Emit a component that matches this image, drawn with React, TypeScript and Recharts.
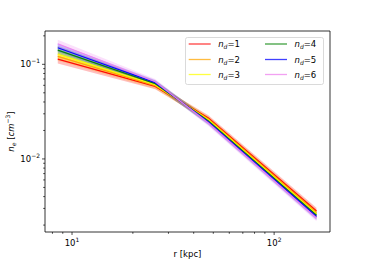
import React from 'react';
import { ComposedChart, Line, Area, XAxis, YAxis, ReferenceArea } from 'recharts';

const radii = [8.5, 25.8, 47.3, 162];
const nd1 = [0.1137, 0.0585, 0.0270, 0.00282];
const nd2 = [0.1215, 0.0595, 0.0264, 0.00272];
const nd3 = [0.1275, 0.0610, 0.0258, 0.00262];
const nd4 = [0.1416, 0.0625, 0.0252, 0.00254];
const nd5 = [0.1497, 0.0640, 0.0246, 0.00246];
const nd6 = [0.1650, 0.0655, 0.0240, 0.00238];
const bandFrac = [0.1, 0.07, 0.07, 0.08];
const seriesNames = ['1', '2', '3', '4', '5', '6'];
const seriesValues = [nd1, nd2, nd3, nd4, nd5, nd6];
const colors = ['red', 'orange', 'yellow', 'green', 'blue', 'violet'];

const xMajor = [10, 100];
const xMinor = [8, 9, 20, 30, 40, 50, 60, 70, 80, 90];
const yMajor = [0.01, 0.1];
const yMinor = [0.002, 0.003, 0.004, 0.005, 0.006, 0.007, 0.008, 0.009, 0.02, 0.03, 0.04, 0.05, 0.06, 0.07, 0.08, 0.09, 0.2];
const xDomain = [7.35, 189];
const yDomain = [0.00169, 0.225];

const data = radii.map((r, i) => {
  const row: any = { r };
  seriesValues.forEach((s, k) => {
    row['nd' + (k + 1)] = s[i];
    row['band' + (k + 1)] = [s[i] * (1 - bandFrac[i]), s[i] * (1 + bandFrac[i])];
  });
  return row;
});

const FONT = 'DejaVu Sans';
const FS = 8.5;

const XTick = (props: any) => {
  const { x, y, payload } = props;
  const major = xMajor.includes(payload.value);
  const exp = Math.round(Math.log10(payload.value));
  return (
    <g>
      <line x1={x} x2={x} y1={y} y2={y + (major ? 3 : 1.8)} stroke="#000" strokeWidth={0.7} />
      {major && (
        <text x={x} y={y + 14} textAnchor="middle" fontFamily={FONT} fontSize={FS} fill="#000">
          10<tspan dy={-4} fontSize={6}>{exp}</tspan>
        </text>
      )}
    </g>
  );
};

const YTick = (props: any) => {
  const { x, y, payload } = props;
  const major = yMajor.includes(payload.value);
  const exp = Math.round(Math.log10(payload.value));
  return (
    <g>
      <line x1={x} x2={x - (major ? 3 : 1.8)} y1={y} y2={y} stroke="#000" strokeWidth={0.7} />
      {major && (
        <text x={x - 5} y={y + 3} textAnchor="end" fontFamily={FONT} fontSize={FS} fill="#000">
          10<tspan dy={-4} fontSize={6}>{'\u2212' + Math.abs(exp)}</tspan>
        </text>
      )}
    </g>
  );
};

const LegendBox = () => {
  const rows = [7, 22.5, 37.5];
  return (
    <svg width={140} height={49} style={{ position: 'absolute', left: 185, top: 37, overflow: 'visible' }}>
      <rect x={0.5} y={0.5} width={138} height={47} rx={2} ry={2} fill="rgba(255,255,255,0.8)" stroke="#d0d0d0" strokeWidth={0.8} />
      {seriesNames.map((n, k) => {
        const col = k < 3 ? 0 : 1;
        const row = k % 3;
        const lx = col === 0 ? 3.7 : 80;
        const ty = rows[row];
        return (
          <g key={n}>
            <line x1={lx} x2={lx + 22} y1={ty} y2={ty} stroke={colors[k]} strokeOpacity={0.75} strokeWidth={1.3} />
            <text x={lx + 29.5} y={ty + 3} fontFamily={FONT} fontSize={FS} fill="#000">
              <tspan fontStyle="italic">n</tspan>
              <tspan dy={2} fontSize={6} fontStyle="italic">d</tspan>
              <tspan dy={-2}>={n}</tspan>
            </text>
          </g>
        );
      })}
    </svg>
  );
};

export default function App() {
  return (
    <div style={{ position: 'absolute', left: 0, top: 0, width: 366, height: 262, background: '#fff' }}>
      <ComposedChart width={366} height={262} data={data} margin={{ top: 31, right: 36, bottom: 0, left: 0 }}>
        <XAxis
          dataKey="r"
          type="number"
          scale="log"
          domain={xDomain}
          allowDataOverflow
          ticks={[...xMinor, ...xMajor]}
          interval={0}
          tick={<XTick />}
          tickLine={false}
          tickSize={0}
          tickMargin={0}
          axisLine={false}
          height={30}
        />
        <YAxis
          type="number"
          scale="log"
          domain={yDomain}
          allowDataOverflow
          ticks={[...yMinor, ...yMajor]}
          interval={0}
          tick={<YTick />}
          tickLine={false}
          tickSize={0}
          tickMargin={0}
          axisLine={false}
          width={45}
        />
        {seriesNames.map((n, k) => (
          <Area
            key={'a' + n}
            dataKey={'band' + (k + 1)}
            stroke="none"
            fill={colors[k]}
            fillOpacity={0.25}
            isAnimationActive={false}
            legendType="none"
          />
        ))}
        {seriesNames.map((n, k) => (
          <Line
            key={'l' + n}
            dataKey={'nd' + (k + 1)}
            stroke={colors[k]}
            strokeOpacity={0.95}
            strokeWidth={1.3}
            dot={false}
            isAnimationActive={false}
          />
        ))}
        <ReferenceArea
          x1={xDomain[0]}
          x2={xDomain[1]}
          y1={yDomain[0]}
          y2={yDomain[1]}
          fill="none"
          stroke="#000"
          strokeWidth={0.8}
          ifOverflow="visible"
        />
      </ComposedChart>
      <LegendBox />
      <div
        style={{
          position: 'absolute',
          left: 187.5,
          top: 250,
          transform: 'translateX(-50%)',
          fontFamily: FONT,
          fontSize: FS,
          whiteSpace: 'nowrap',
          lineHeight: 1,
        }}
      >
        r [kpc]
      </div>
      <svg style={{ position: 'absolute', left: 0, top: 0, pointerEvents: 'none' }} width={30} height={262}>
        <text
          transform="translate(14,131.5) rotate(-90)"
          textAnchor="middle"
          fontFamily={FONT}
          fontSize={FS}
          fill="#000"
        >
          <tspan fontStyle="italic">n</tspan>
          <tspan dy={2} fontSize={6} fontStyle="italic">e</tspan>
          <tspan dy={-2}> [</tspan>
          <tspan fontStyle="italic">cm</tspan>
          <tspan dy={-4} fontSize={6}>{'\u22123'}</tspan>
          <tspan dy={4}>]</tspan>
        </text>
      </svg>
    </div>
  );
}
